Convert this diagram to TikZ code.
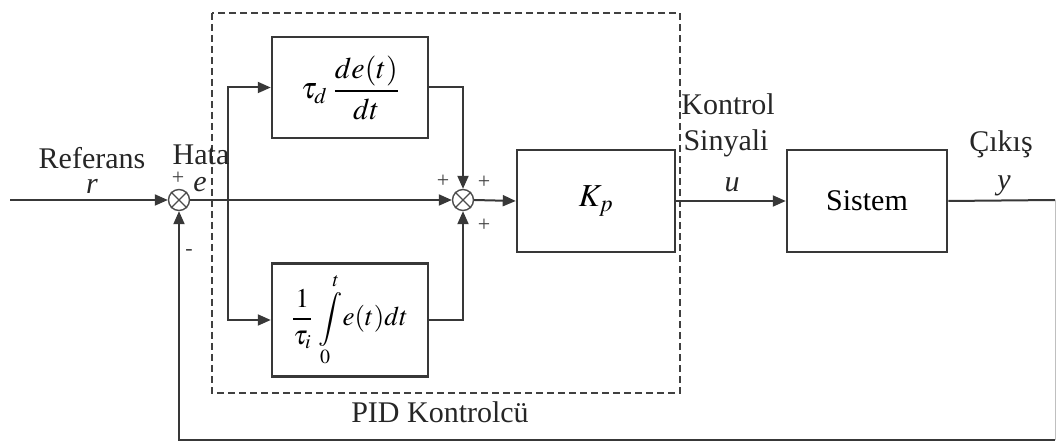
\documentclass[tikz,border=0pt]{standalone}
\usepackage{amsmath}
\usepackage{mathptmx}
\usepackage[no-math]{fontspec}
\setmainfont{Liberation Serif}
\usetikzlibrary{arrows.meta}
\tikzset{
  ln/.style={draw=black!78, line width=2pt},
  arr/.style={ln, -{Triangle[length=13pt,width=11pt]}},
  blk/.style={draw=black!78, line width=2.5pt, rectangle, inner sep=0pt, fill=white},
  sumj/.style={draw=black!70, line width=1.4pt, circle, minimum size=21pt, inner sep=0pt},
  lbl/.style={font=\fontsize{30}{34}\selectfont, inner sep=0pt, text=black!85},
  sgn/.style={font=\fontsize{22}{24}\selectfont, inner sep=0pt, text=black!75},
}
\begin{document}
\begin{tikzpicture}[x=1pt, y=-1pt]
\useasboundingbox (0,0) rectangle (1057,443);
% dashed PID frame
\draw[black!75, line width=1.8pt, dash pattern=on 7pt off 4pt] (212,13) rectangle (680,393);
% blocks
\node[blk, minimum width=156pt, minimum height=101pt] (D) at (350,87.5) {\fontsize{30}{34}\selectfont $\displaystyle \tau_d\;\frac{de(t)}{dt}$};
\node[blk, minimum width=156pt, minimum height=113pt] (I) at (350,320) {\fontsize{27}{30}\selectfont $\displaystyle \frac{1}{\tau_i}\,\int\limits_0^t\! e(t)dt$};
\node[blk, minimum width=158pt, minimum height=102pt] (K) at (596,201) {\fontsize{32}{36}\selectfont $K_p$};
\node[blk, minimum width=160pt, minimum height=102pt] (S) at (867,201) {\fontsize{30}{34}\selectfont Sistem};
% summing junctions
\node[sumj] (s1) at (179,200) {};
\draw[black!70, line width=1.2pt] (s1.north west) -- (s1.south east) (s1.north east) -- (s1.south west);
\node[sumj] (s2) at (463,200) {};
\draw[black!70, line width=1.2pt] (s2.north west) -- (s2.south east) (s2.north east) -- (s2.south west);
% coordinates
\coordinate (in) at (10,200);
\coordinate (br) at (228,200);
\coordinate (out) at (1055,200);
\coordinate (fbr) at (1055,440);
\coordinate (fbl) at (179,440);
% connectors
\draw[arr] (in) -- (s1.west);
\draw[ln] (s1.east) -- (br);
\draw[arr] (br) -- (s2.west);
\draw[arr] (br) |- (D.west);
\draw[arr] (br) |- (I.west);
\draw[arr] (D.east) -| (s2.north);
\draw[arr] (I.east) -| (s2.south);
\draw[arr] (s2.east) -- (K.west);
\draw[arr] (K.east) -- (S.west);
\draw[ln] (S.east) -- (out);
\draw[black!25, line width=1pt] (out) -- (fbr);
\draw[arr] (fbr) -- (fbl) -- (s1.south);
% labels
\node[lbl] (tref) at (92,158) {Referans};
\node[lbl] (tr) at (92,186) {\itshape r};
\node[lbl] (thata) at (201,155) {Hata};
\node[sgn] (p1) at (178,178) {+};
\node[lbl] (te) at (200,185) {\itshape e};
\node[sgn] (m1) at (189,252) {-};
\node[sgn] (p2) at (443,181) {+};
\node[sgn] (p3) at (484,182) {+};
\node[sgn] (p4) at (484,225) {+};
\node[lbl] (tk) at (728,104) {Kontrol};
\node[lbl] (ts) at (726,143) {Sinyali};
\node[lbl] (tu) at (732,185) {\itshape u};
\node[lbl] (tc) at (1001,144) {Çıkış};
\node[lbl] (ty) at (1004,186) {\itshape y};
\node[lbl] (tpid) at (440,412) {PID Kontrolcü};
\end{tikzpicture}
\end{document}
